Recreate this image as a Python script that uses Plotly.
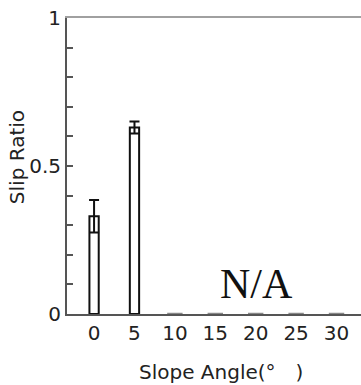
import plotly.graph_objects as go

angles = [0, 5, 10, 15, 20, 25, 30]
slip_ratio = [0.33, 0.63, 0, 0, 0, 0, 0]
slip_err = [0.055, 0.02, 0, 0, 0, 0, 0]
y_tick_vals = [0, 0.1, 0.2, 0.3, 0.4, 0.5, 0.6, 0.7, 0.8, 0.9, 1.0]
y_tick_text = ["0", "", "", "", "", "0.5", "", "", "", "", "1"]
x_tick_vals = angles
x_tick_text = [str(a) for a in angles]

nonzero_x = [a for a, v in zip(angles, slip_ratio) if v > 0]
nonzero_y = [v for v in slip_ratio if v > 0]
nonzero_e = [e for e, v in zip(slip_err, slip_ratio) if v > 0]
zero_x = [a for a, v in zip(angles, slip_ratio) if v == 0]
zero_y = [v for v in slip_ratio if v == 0]

FONT = "DejaVu Sans"

fig = go.Figure()
fig.add_trace(go.Bar(
    x=nonzero_x, y=nonzero_y, width=1.15,
    marker=dict(color="white", line=dict(color="#111111", width=2)),
    error_y=dict(type="data", array=nonzero_e, visible=True,
                 color="#111111", thickness=2, width=5),
    showlegend=False,
))
fig.add_trace(go.Scatter(
    x=zero_x, y=zero_y, mode="markers",
    marker=dict(symbol="line-ew", size=11, line=dict(color="#888888", width=2.5)),
    showlegend=False, cliponaxis=False,
))
# invisible trace for top frame axis
fig.add_trace(go.Scatter(x=[angles[0]], y=[0], xaxis="x2", mode="markers",
                         marker=dict(opacity=0), showlegend=False, hoverinfo="skip"))

fig.update_layout(
    width=361, height=385,
    margin=dict(l=67, r=0, t=18, b=71),
    paper_bgcolor="white", plot_bgcolor="white",
    xaxis=dict(range=[-3.35, 33.03], tickvals=x_tick_vals, ticktext=x_tick_text,
               showgrid=False, zeroline=False, showline=True, linecolor="#555555",
               linewidth=2, ticks="", tickfont=dict(family=FONT, size=20, color="#222222")),
    xaxis2=dict(range=[-3.35, 33.03], overlaying="x", side="top", showline=True,
                linecolor="#a0a0a0", linewidth=2, showticklabels=False, ticks="",
                showgrid=False, zeroline=False),
    yaxis=dict(range=[0, 1], tickvals=y_tick_vals, ticktext=y_tick_text,
               showgrid=False, zeroline=False, showline=True, linecolor="#555555",
               linewidth=2, ticks="inside", ticklen=6, tickwidth=1.5, tickcolor="#555555",
               tickfont=dict(family=FONT, size=20, color="#222222")),
    annotations=[
        dict(text="Slip Ratio", xref="paper", yref="paper", x=-0.17, y=0.53,
             textangle=-90, showarrow=False, xanchor="center", yanchor="middle",
             font=dict(family=FONT, size=20, color="#222222")),
        dict(text="Slope Angle(°\u2003)", xref="paper", yref="paper", x=0.524, y=-0.1945,
             showarrow=False, xanchor="center", yanchor="middle",
             font=dict(family=FONT, size=20, color="#222222")),
        dict(text="N/A", xref="x", yref="y", x=20.1, y=0.102,
             showarrow=False, xanchor="center", yanchor="middle",
             font=dict(family="Liberation Serif", size=42, color="#111111")),
    ],
)

fig.write_html("out.html")
